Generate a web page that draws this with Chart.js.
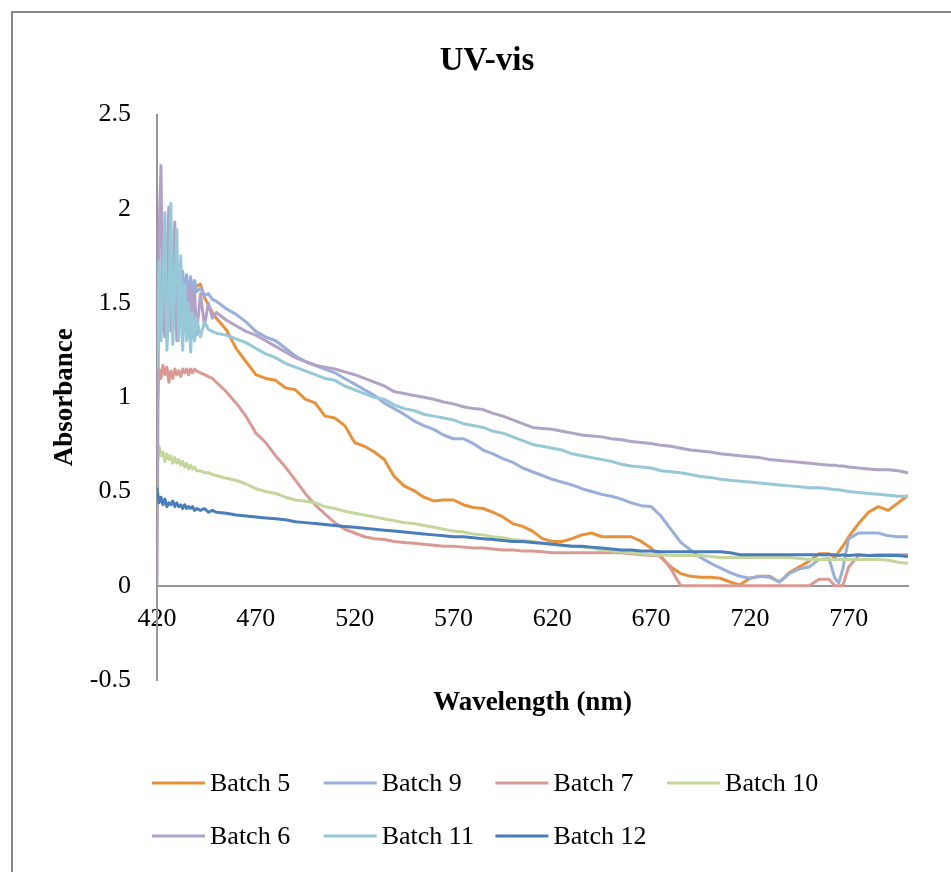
<!DOCTYPE html>
<html>
<head>
<meta charset="utf-8">
<title>UV-vis</title>
<script src="https://cdn.jsdelivr.net/npm/chart.js@4.4.1/dist/chart.umd.min.js"></script>
<style>
  html, body { margin: 0; padding: 0; background: #fff; overflow: hidden; }
  #uv { position: absolute; left: 0; top: 0; }
  #frame { position: absolute; left: 11px; top: 11px; width: 1000px; height: 1000px; border: 2px solid #878787; pointer-events: none; }
</style>
</head>
<body>
<canvas id="uv" width="974" height="872"></canvas>
<div id="frame"></div>
<script>
// wavelength grid (nm), finer at the noisy blue end
const wavelengths = [
  420, 421, 422, 423, 424, 425, 426, 427, 428, 429, 430, 431, 432, 433, 434, 435, 436, 437, 438, 439, 440,
  442, 444, 446, 448,
  450, 455, 460, 465, 470, 475, 480, 485, 490, 495, 500, 505, 510, 515, 520, 525, 530, 535, 540, 545,
  550, 555, 560, 565, 570, 575, 580, 585, 590, 595, 600, 605, 610, 615, 620, 625, 630, 635, 640, 645,
  650, 655, 660, 665, 670, 675, 680, 685, 690, 695, 700, 705, 710, 715, 720, 725, 730, 735, 740, 745, 750, 755, 760,
  763, 765, 767,
  770, 775, 780, 785, 790, 795, 800
];

const batch5 = [
  1.30, 1.50, 1.42, 1.55, 1.40, 1.52, 1.45, 1.56, 1.44, 1.55, 1.48, 1.58, 1.50, 1.57, 1.52, 1.58, 1.55, 1.60, 1.57, 1.60, 1.59,
  1.60, 1.53, 1.49, 1.45,
  1.42, 1.36, 1.26, 1.19, 1.12, 1.10, 1.09, 1.05, 1.04, 0.99, 0.97, 0.90, 0.89, 0.85, 0.76, 0.74, 0.71, 0.67, 0.58, 0.53,
  0.505, 0.47, 0.45, 0.455, 0.455, 0.43, 0.415, 0.41, 0.39, 0.365, 0.33, 0.315, 0.29, 0.25, 0.235, 0.235, 0.25, 0.27, 0.28, 0.26,
  0.26, 0.26, 0.26, 0.235, 0.20, 0.15, 0.10, 0.065, 0.05, 0.045, 0.045, 0.04, 0.02, 0.005, 0.04, 0.05, 0.05, 0.02, 0.07, 0.10, 0.13, 0.17, 0.17,
  0.15, 0.18, 0.21,
  0.26, 0.33, 0.39, 0.42, 0.40, 0.44, 0.48
];

const batch9 = [
  1.20, 1.55, 1.38, 1.60, 1.42, 1.58, 1.40, 1.62, 1.45, 1.64, 1.48, 1.66, 1.50, 1.67, 1.55, 1.65, 1.52, 1.64, 1.55, 1.62, 1.56,
  1.58, 1.54, 1.55, 1.52,
  1.51, 1.47, 1.44, 1.40, 1.35, 1.32, 1.30, 1.26, 1.22, 1.19, 1.17, 1.15, 1.13, 1.10, 1.07, 1.04, 1.01, 0.97, 0.94, 0.91,
  0.875, 0.85, 0.83, 0.80, 0.78, 0.78, 0.755, 0.72, 0.70, 0.675, 0.655, 0.625, 0.605, 0.585, 0.565, 0.55, 0.535, 0.515, 0.50, 0.485,
  0.475, 0.46, 0.44, 0.425, 0.42, 0.37, 0.30, 0.23, 0.19, 0.15, 0.12, 0.095, 0.07, 0.05, 0.04, 0.05, 0.045, 0.02, 0.065, 0.09, 0.10, 0.14, 0.145,
  0.04, 0.015, 0.09,
  0.25, 0.28, 0.28, 0.28, 0.265, 0.26, 0.26
];

const batch7 = [
  0.90, 1.15, 1.10, 1.17, 1.12, 1.16, 1.08, 1.14, 1.10, 1.15, 1.12, 1.14, 1.11, 1.15, 1.13, 1.15, 1.12, 1.15, 1.13, 1.15, 1.14,
  1.13, 1.12, 1.11, 1.10,
  1.08, 1.03, 0.97, 0.90, 0.81, 0.76, 0.69, 0.63, 0.56, 0.49, 0.43, 0.38, 0.335, 0.30, 0.28, 0.26, 0.25, 0.245, 0.235, 0.23,
  0.225, 0.22, 0.215, 0.21, 0.21, 0.205, 0.20, 0.20, 0.195, 0.19, 0.19, 0.185, 0.185, 0.18, 0.175, 0.175, 0.175, 0.175, 0.175, 0.175,
  0.175, 0.175, 0.17, 0.165, 0.16, 0.16, 0.09, 0.0, 0.0, 0.0, 0.0, 0.0, 0.0, 0.0, 0.0, 0.0, 0.0, 0.0, 0.0, 0.0, 0.0, 0.035, 0.035,
  0.0, 0.0, 0.0,
  0.10, 0.16, 0.16, 0.165, 0.165, 0.165, 0.165
];

const batch10 = [
  0.62, 0.74, 0.69, 0.71, 0.66, 0.70, 0.67, 0.69, 0.65, 0.68, 0.65, 0.67, 0.64, 0.66, 0.63, 0.65, 0.62, 0.64, 0.62, 0.63, 0.61,
  0.61, 0.60, 0.60, 0.59,
  0.585, 0.57, 0.56, 0.54, 0.515, 0.50, 0.49, 0.47, 0.455, 0.45, 0.44, 0.42, 0.41, 0.395, 0.385, 0.375, 0.365, 0.355, 0.345, 0.335,
  0.33, 0.32, 0.31, 0.30, 0.29, 0.285, 0.275, 0.27, 0.26, 0.255, 0.245, 0.24, 0.235, 0.225, 0.22, 0.215, 0.21, 0.205, 0.20, 0.19,
  0.185, 0.18, 0.175, 0.17, 0.165, 0.165, 0.16, 0.16, 0.16, 0.16, 0.155, 0.15, 0.15, 0.15, 0.15, 0.15, 0.15, 0.15, 0.15, 0.145, 0.14, 0.14, 0.14,
  0.14, 0.14, 0.14,
  0.14, 0.14, 0.14, 0.14, 0.135, 0.125, 0.12
];

const batch6 = [
  0.00, 1.86, 2.23, 1.40, 1.32, 1.70, 2.01, 1.35, 1.62, 1.93, 1.30, 1.55, 1.38, 1.62, 1.35, 1.58, 1.32, 1.60, 1.40, 1.57, 1.33,
  1.55, 1.38, 1.50, 1.42,
  1.45, 1.41, 1.38, 1.35, 1.33, 1.30, 1.27, 1.24, 1.21, 1.19, 1.17, 1.16, 1.15, 1.135, 1.12, 1.10, 1.08, 1.06, 1.03, 1.02,
  1.01, 1.00, 0.99, 0.975, 0.965, 0.95, 0.94, 0.935, 0.915, 0.90, 0.88, 0.86, 0.84, 0.835, 0.83, 0.82, 0.81, 0.80, 0.795, 0.79,
  0.78, 0.775, 0.765, 0.76, 0.755, 0.745, 0.74, 0.73, 0.72, 0.715, 0.71, 0.70, 0.695, 0.69, 0.685, 0.68, 0.67, 0.665, 0.66, 0.655, 0.65, 0.645, 0.64,
  0.64, 0.635, 0.635,
  0.63, 0.625, 0.62, 0.615, 0.615, 0.61, 0.60
];

const batch11 = [
  1.15, 1.72, 1.30, 1.55, 1.98, 1.25, 1.45, 2.03, 1.28, 1.60, 1.89, 1.30, 1.75, 1.25, 1.60, 1.30, 1.50, 1.24, 1.45, 1.30, 1.42,
  1.32, 1.40, 1.36, 1.35,
  1.34, 1.33, 1.31, 1.29, 1.26, 1.23, 1.21, 1.18, 1.16, 1.14, 1.12, 1.10, 1.09, 1.06, 1.04, 1.02, 1.00, 0.99, 0.96, 0.94,
  0.93, 0.91, 0.90, 0.89, 0.88, 0.86, 0.85, 0.84, 0.82, 0.81, 0.79, 0.77, 0.75, 0.74, 0.73, 0.72, 0.70, 0.69, 0.68, 0.67,
  0.66, 0.645, 0.635, 0.63, 0.625, 0.61, 0.605, 0.60, 0.59, 0.58, 0.575, 0.565, 0.56, 0.555, 0.55, 0.545, 0.54, 0.535, 0.53, 0.525, 0.52, 0.52, 0.515,
  0.51, 0.51, 0.505,
  0.50, 0.495, 0.49, 0.485, 0.48, 0.475, 0.475
];

const batch12 = [
  0.52, 0.44, 0.47, 0.43, 0.46, 0.42, 0.44, 0.43, 0.45, 0.42, 0.44, 0.42, 0.43, 0.41, 0.43, 0.41, 0.42, 0.41, 0.42, 0.40, 0.41,
  0.40, 0.41, 0.39, 0.40,
  0.39, 0.385, 0.375, 0.37, 0.365, 0.36, 0.355, 0.35, 0.34, 0.335, 0.33, 0.325, 0.32, 0.315, 0.31, 0.305, 0.30, 0.295, 0.29, 0.285,
  0.28, 0.275, 0.27, 0.265, 0.26, 0.26, 0.255, 0.25, 0.245, 0.24, 0.235, 0.235, 0.23, 0.225, 0.22, 0.215, 0.21, 0.21, 0.205, 0.20,
  0.195, 0.19, 0.19, 0.185, 0.185, 0.18, 0.18, 0.18, 0.18, 0.18, 0.18, 0.18, 0.175, 0.165, 0.165, 0.165, 0.165, 0.165, 0.165, 0.165, 0.165, 0.165, 0.165,
  0.165, 0.16, 0.165,
  0.16, 0.165, 0.16, 0.16, 0.16, 0.16, 0.155
];

const seriesNames = ['Batch 5', 'Batch 9', 'Batch 7', 'Batch 10', 'Batch 6', 'Batch 11', 'Batch 12'];
const seriesValues = [batch5, batch9, batch7, batch10, batch6, batch11, batch12];
const seriesColors = ['#E8913C', '#98AFD9', '#DA9A94', '#C3D69B', '#B3A2C7', '#96C8D8', '#4A7EBB'];

const xTicks = [420, 470, 520, 570, 620, 670, 720, 770];
const yTicks = [-0.5, 0, 0.5, 1, 1.5, 2, 2.5];

const serif = "'Liberation Serif', 'Times New Roman', serif";
const axisGray = '#969696';

// legend drawn as a fixed 4-column grid under the plot
const gridLegend = {
  id: 'gridLegend',
  afterDraw(chart) {
    const ctx = chart.ctx;
    ctx.save();
    ctx.font = '26px ' + serif;
    ctx.textBaseline = 'middle';
    ctx.textAlign = 'left';
    ctx.fillStyle = '#000';
    chart.data.datasets.forEach((ds, i) => {
      const x = 152 + (i % 4) * 171.7;
      const y = 783 + Math.floor(i / 4) * 53;
      ctx.strokeStyle = ds.borderColor;
      ctx.lineWidth = 3;
      ctx.beginPath();
      ctx.moveTo(x, y);
      ctx.lineTo(x + 53, y);
      ctx.stroke();
      ctx.fillText(ds.label, x + 58, y + 1);
    });
    ctx.restore();
  }
};

const hiddenAxis = {
  type: 'linear',
  display: true,
  ticks: { display: false },
  grid: { display: false, drawTicks: false },
  border: { display: false }
};

new Chart(document.getElementById('uv'), {
  type: 'line',
  data: {
    datasets: seriesNames.map((name, i) => ({
      label: name,
      data: wavelengths.map((w, j) => ({ x: w, y: seriesValues[i][j] })),
      borderColor: seriesColors[i],
      backgroundColor: seriesColors[i],
      borderWidth: 3,
      borderJoinStyle: 'round',
      pointRadius: 0,
      tension: 0,
      xAxisID: 'x',
      yAxisID: 'y',
      order: seriesNames.length - i
    }))
  },
  options: {
    responsive: false,
    animation: false,
    events: [],
    layout: { padding: { left: 0, right: 0, top: 0, bottom: 152 } },
    plugins: {
      legend: { display: false },
      tooltip: { enabled: false },
      title: {
        display: true,
        text: 'UV-vis',
        color: '#000',
        font: { family: serif, size: 33, weight: 'bold' },
        padding: { top: 42, bottom: 33 }
      }
    },
    scales: {
      x: {
        type: 'linear',
        min: 420,
        max: 800,
        position: { y: 0 },
        afterBuildTicks: (s) => { s.ticks = xTicks.map(v => ({ value: v })); },
        ticks: { color: '#000', font: { family: serif, size: 26 }, padding: 18, maxRotation: 0, autoSkip: false },
        grid: { display: false, drawTicks: false },
        border: { color: axisGray, width: 2 }
      },
      xTitle: Object.assign({}, hiddenAxis, {
        position: 'bottom',
        title: {
          display: true,
          text: 'Wavelength (nm)',
          color: '#000',
          font: { family: serif, size: 27, weight: 'bold' },
          padding: { top: 0, bottom: 1 }
        },
        afterFit: (s) => { s.height = 40; }
      }),
      y: {
        type: 'linear',
        position: 'left',
        min: -0.5,
        max: 2.5,
        afterBuildTicks: (s) => { s.ticks = yTicks.map(v => ({ value: v })); },
        ticks: { color: '#000', font: { family: serif, size: 26 }, padding: 26, callback: v => String(v) },
        grid: { display: false, drawTicks: false },
        border: { color: axisGray, width: 2 },
        title: {
          display: true,
          text: 'Absorbance',
          color: '#000',
          font: { family: serif, size: 27, weight: 'bold' },
          padding: { top: 49, bottom: 0 }
        },
        afterFit: (s) => { s.width = 157; }
      },
      yPad: Object.assign({}, hiddenAxis, {
        position: 'right',
        afterFit: (s) => { s.width = 66; }
      })
    }
  },
  plugins: [gridLegend]
});
</script>
</body>
</html>
